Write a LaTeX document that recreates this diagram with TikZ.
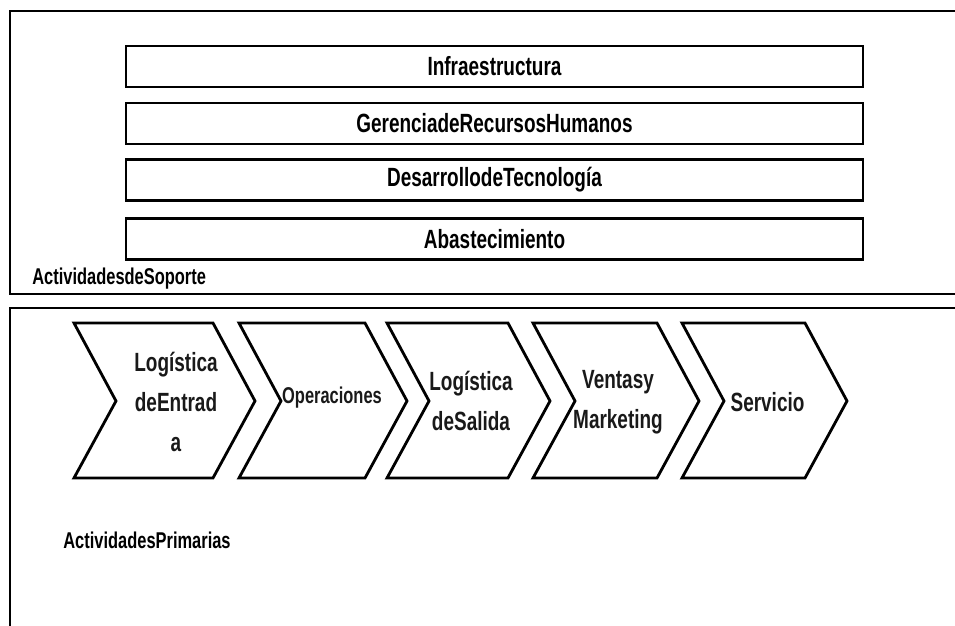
\documentclass[tikz,border=0pt]{standalone}
\usepackage{fontspec}
\newfontfamily\narrowsf[FakeStretch=0.72]{Liberation Sans}
\tikzstyle{frame} = [line width=1.6pt]
\tikzstyle{bar} = [draw,line width=1.6pt,minimum width=14.74cm,minimum height=0.82cm,font=\narrowsf\bfseries\fontsize{15}{18}\selectfont]
\tikzstyle{chevron} = [line width=1.6pt,line join=miter]
\tikzstyle{paso} = [align=center,inner sep=0pt,text=black!90,font=\narrowsf\bfseries\fontsize{15}{22.8}\selectfont]
\tikzstyle{titulo} = [anchor=west,inner sep=0pt,font=\narrowsf\bfseries\fontsize{13}{16}\selectfont]

\begin{document}
\begin{tikzpicture}[x=0.02cm,y=-0.02cm]
	\def \top {323}
	\def \bot {478}
	\def \mid {401}
	\def \p {42}
	\useasboundingbox (0,0) rectangle (955,625);
	\clip (0,0) rectangle (955,625);
	
	% marcos
	\draw [frame] (970,11) -- (10,11) -- (10,294) -- (970,294);
	\draw [frame] (970,308) -- (10,308) -- (10,640);
	
	% actividades de soporte
	\node (infra) at (494.5,66.5) [bar] {Infraestructura};
	\node (rrhh) at (494.5,123.5) [bar] {GerenciadeRecursosHumanos};
	\node (tecno) at (494.5,180) [bar] {DesarrollodeTecnología};
	\node (abast) at (494.5,239) [bar] {Abastecimiento};
	\node (soporte) at (32,279) [titulo] {ActividadesdeSoporte};
	
	% actividades primarias
	\foreach \l/\r in {74/213, 239/365, 387/508, 533/657, 682/805}
		\draw [chevron] (\l,\top) -- (\r,\top) -- (\r+\p,\mid) -- (\r,\bot) -- (\l,\bot) -- (\l+\p,\mid) -- cycle;
	
	\node (entrada) at (176,402) [paso] {Logística\\deEntrad\\a};
	\node (oper) at (332,398) [paso,font=\narrowsf\bfseries\fontsize{13}{16}\selectfont] {Operaciones};
	\node (salida) at (471,401) [paso] {Logística\\deSalida};
	\node (ventas) at (618,402) [paso] {Ventasy\\Marketing};
	\node (servicio) at (767.5,402) [paso] {Servicio};
	\node (primarias) at (63,540) [titulo] {ActividadesPrimarias};
\end{tikzpicture}
\end{document}
